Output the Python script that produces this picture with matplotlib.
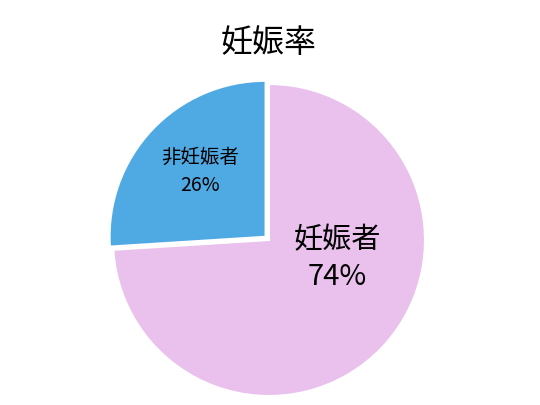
import matplotlib.pyplot as plt

plt.rcParams['font.family'] = ['Noto Sans CJK JP', 'DejaVu Sans']

title = "妊娠率"
labels = ["非妊娠者", "妊娠者"]
values = [26, 74]
colors = ["#4FAAE4", "#E9C1EC"]
explode = [0.03, 0]

fig = plt.figure(figsize=(5.4, 4.05), dpi=100)
# pie centre at (269, 240) px from top-left, radius ~156 px
r = 156
cx, cy = 269, 405 - 240
ax = fig.add_axes([(cx - r) / 540, (cy - r) / 405, 2 * r / 540, 2 * r / 405])
ax.axis("off")

wedges, _ = ax.pie(values, colors=colors, startangle=90, counterclock=True,
                   explode=explode, radius=1,
                   wedgeprops={"edgecolor": "white", "linewidth": 1.5})
for w in wedges:
    w.set_clip_on(False)

ax.set_xlim(-1, 1)
ax.set_ylim(-1, 1)

# label positions (in pie radius units)
ax.text(-0.44, 0.44, f"{labels[0]}\n{values[0]}%", ha="center", va="center",
        fontsize=14, linespacing=1.4)
ax.text(0.44, -0.12, f"{labels[1]}\n{values[1]}%", ha="center", va="center",
        fontsize=21, linespacing=1.3)

fig.text(cx / 540, 1 - 43 / 405, title, ha="center", va="center", fontsize=23)

fig.savefig("out.png", dpi=100)
